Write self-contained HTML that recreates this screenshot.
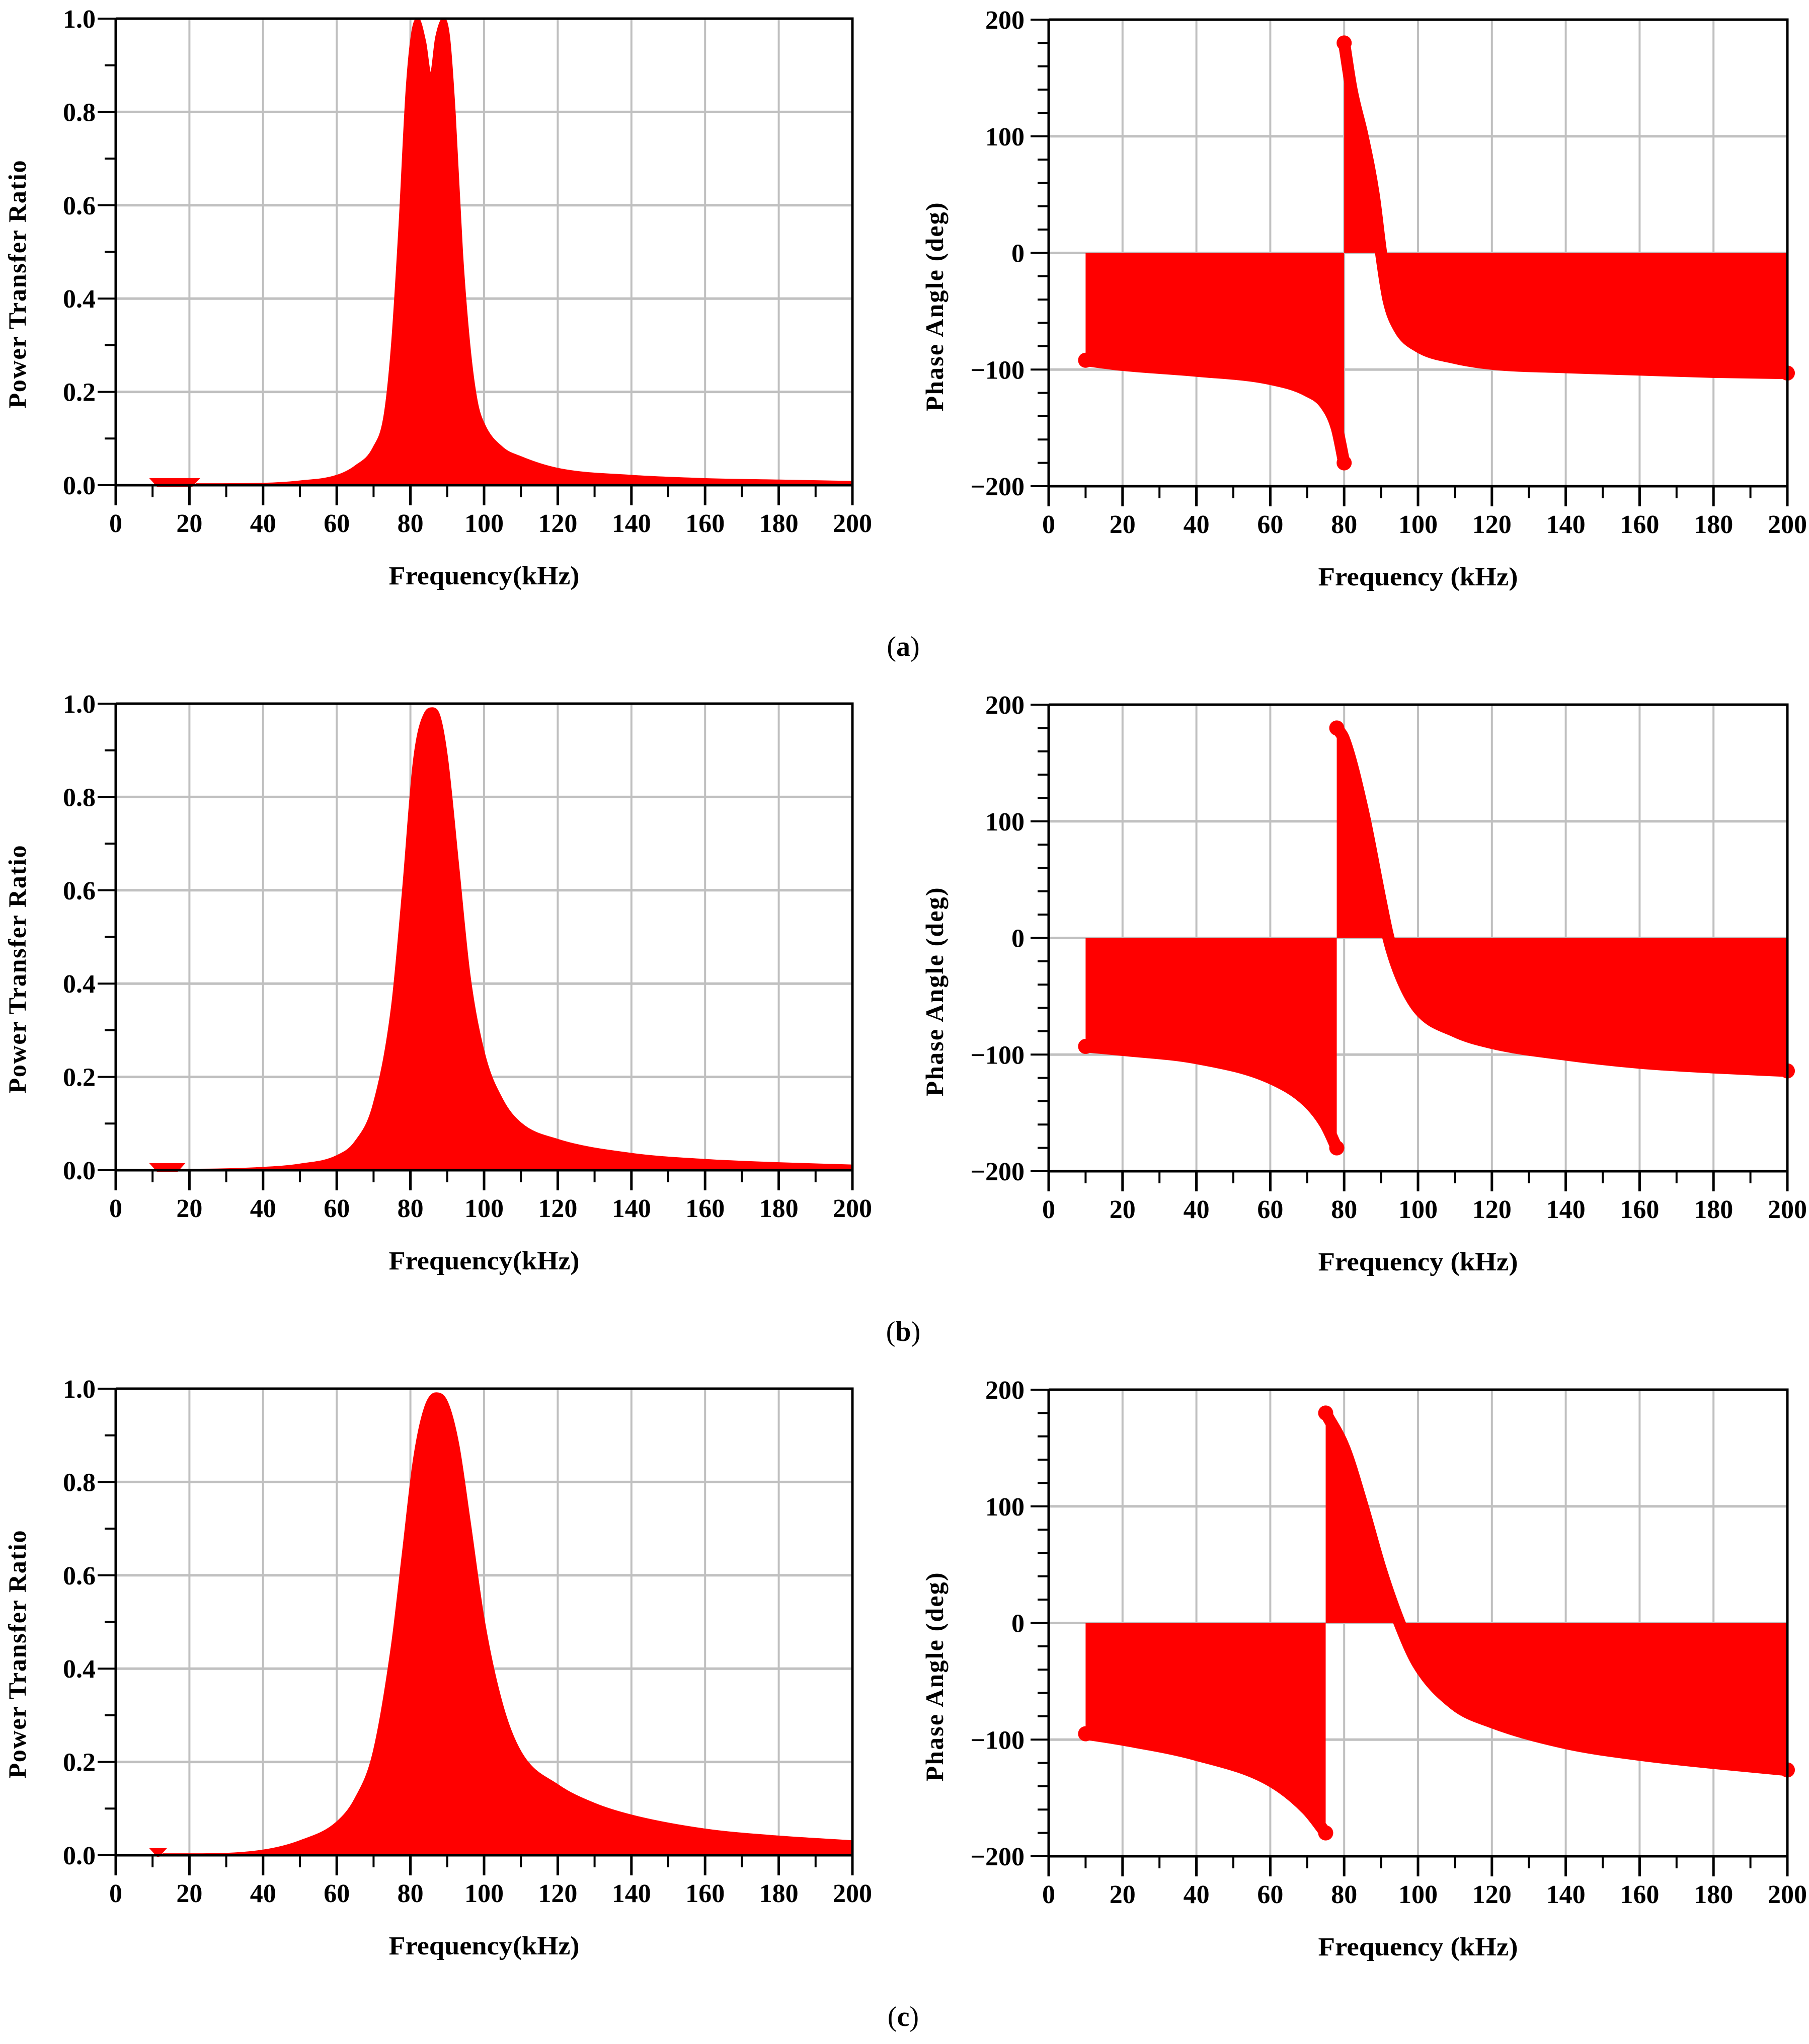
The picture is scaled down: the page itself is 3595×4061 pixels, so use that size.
<!DOCTYPE html>
<html><head><meta charset="utf-8"><style>
html,body{margin:0;padding:0;background:#fff}
svg{display:block}
text{font-family:"Liberation Serif",serif;font-weight:bold;fill:#000}
</style></head><body>
<svg id="fig" width="3595" height="4061" viewBox="0 0 3595 4061" xmlns="http://www.w3.org/2000/svg"></svg>
<script>
// ----- data -----
const freqA = [22,25,40,50,60,65,70,73,75,77,79,80.5,82,84,85.5,87,89,90.5,92,94,96,98,100,105,110,120,140,160,180,200];
const ratioA = [0.002,0.002,0.003,0.008,0.02,0.04,0.08,0.15,0.3,0.55,0.85,0.97,1.0,0.95,0.88,0.96,1.0,0.96,0.8,0.5,0.3,0.18,0.13,0.08,0.06,0.035,0.02,0.013,0.01,0.007];
const freqB = [18,20,40,50,60,65,70,75,78,81,84,86,88,90,93,96,100,105,110,120,140,160,180,200];
const ratioB = [0.001,0.001,0.005,0.012,0.03,0.06,0.14,0.35,0.6,0.88,0.98,0.99,0.97,0.88,0.65,0.42,0.25,0.15,0.1,0.065,0.035,0.022,0.015,0.01];
const freqC = [13,20,40,50,60,65,70,75,78,81,84,87,90,93,96,100,105,110,120,130,140,160,180,200];
const ratioC = [0.002,0.002,0.01,0.03,0.07,0.12,0.22,0.45,0.65,0.85,0.96,0.99,0.97,0.88,0.72,0.5,0.32,0.22,0.15,0.11,0.085,0.055,0.04,0.03];
const markerEnd = [22,18,13];

const pFreqA = [10,20,40,60,70,75,78,80,80,82,85,88,90,92,95,100,110,120,140,160,180,200];
const phaseA = [-92,-96,-101,-108,-118,-130,-150,-180,180,140,100,50,0,-40,-65,-80,-90,-95,-98,-100,-102,-103];
const pFreqB = [10,20,40,60,70,75,78,78,80,85,90,92,95,100,110,120,140,160,180,200];
const phaseB = [-93,-96,-103,-120,-140,-160,-180,180,170,110,30,0,-30,-60,-80,-90,-100,-107,-111,-114];
const pFreqC = [10,20,40,60,70,75,75,80,85,90,95,100,110,120,140,160,180,200];
const phaseC = [-95,-100,-113,-135,-160,-180,180,150,100,45,0,-35,-70,-85,-103,-113,-120,-126];

const xTicks = [0,20,40,60,80,100,120,140,160,180,200];
const ratioTicks = ["0.0","0.2","0.4","0.6","0.8","1.0"];
const phaseTicks = ["-200","-100","0","100","200"];
const panelLabels = ["a","b","c"];

const NS="http://www.w3.org/2000/svg";
const svg=document.getElementById('fig');
function mk(tag,attrs,parent){const e=document.createElementNS(NS,tag);for(const k in attrs)e.setAttribute(k,attrs[k]);(parent||svg).appendChild(e);return e;}

// monotone cubic path through pixel points
function smooth(pts){
  const n=pts.length; if(n<2) return '';
  const dx=[],m=[],t=[];
  for(let i=0;i<n-1;i++){dx[i]=pts[i+1][0]-pts[i][0];m[i]=(pts[i+1][1]-pts[i][1])/dx[i];}
  t[0]=m[0];t[n-1]=m[n-2];
  for(let i=1;i<n-1;i++){t[i]=(m[i-1]*m[i]<=0)?0:(m[i-1]+m[i])/2;}
  for(let i=0;i<n-1;i++){if(m[i]===0){t[i]=0;t[i+1]=0;continue;}
    const a=t[i]/m[i],b=t[i+1]/m[i],s=a*a+b*b;if(s>9){const k=3/Math.sqrt(s);t[i]=k*a*m[i];t[i+1]=k*b*m[i];}}
  let d='';
  for(let i=0;i<n-1;i++){const h=dx[i]/3;
    d+=` C${pts[i][0]+h},${pts[i][1]+t[i]*h} ${pts[i+1][0]-h},${pts[i+1][1]-t[i+1]*h} ${pts[i+1][0]},${pts[i+1][1]}`;}
  return d;
}

const LX0=230,LX1=1694,RX0=2084,RX1=3552,H=927,ROW=1361;

function drawPanel(r,isPhase,fx,fy){
  const x0=isPhase?RX0:LX0,x1=isPhase?RX1:LX1,top=(isPhase?39:37)+r*ROW,bot=top+H;
  const ymin=isPhase?-200:0,ymax=isPhase?200:1;
  const X=v=>x0+(v/200)*(x1-x0);
  const Y=v=>bot-(v-ymin)/(ymax-ymin)*H;
  const g=mk('g',{});
  
  
  for(let v=20;v<=200;v+=20){const l=mk('line',{x1:X(v),x2:X(v),y1:top,y2:bot,stroke:'#c0c0c0','stroke-width':4},g);
    }
  const ystep=isPhase?100:0.2;
  for(let i=0;i<=Math.round((ymax-ymin)/ystep);i++){const v=ymin+i*ystep;const l=mk('line',{x1:x0,x2:x1,y1:Y(v),y2:Y(v),stroke:'#c0c0c0','stroke-width':5},g);
    }
  if(!isPhase){
    const pts=fx.map((f,i)=>[X(f),Y(fy[i])]);
    let d='M'+X(fx[0])+','+Y(0)+' L'+pts[0][0]+','+pts[0][1]+smooth(pts)+' L'+X(fx[fx.length-1])+','+Y(0)+'Z';
    const p=mk('path',{d:d,fill:'#ff0000',stroke:'#ff0000','stroke-width':4},g);
    
    const me=markerEnd[r];
    const m=mk('path',{d:`M${X(10)},${Y(0.012)} L${X(me)},${Y(0.012)} L${X(me)-10},${Y(0)} L${X(10)+10},${Y(0)}Z`,fill:'#ff0000',stroke:'#ff0000','stroke-width':6},g);
    
  } else {
    let segs=[[]];
    fx.forEach((f,i)=>{const s=segs[segs.length-1];if(s.length&&s[s.length-1][0]===f)segs.push([]);segs[segs.length-1].push([f,fy[i]]);});
    segs.forEach(s=>{
      const pts=s.map(p=>[X(p[0]),Y(p[1])]);
      const curve='M'+pts[0][0]+','+pts[0][1]+smooth(pts);
      let d='M'+X(s[0][0])+','+Y(0)+' L'+pts[0][0]+','+pts[0][1]+smooth(pts)+' L'+X(s[s.length-1][0])+','+Y(0)+'Z';
      const a=mk('path',{d:d,fill:'#ff0000'},g);
      
      const pl=mk('path',{d:curve,fill:'none',stroke:'#ff0000','stroke-width':24,'stroke-linecap':'round','stroke-linejoin':'round'},g);
      
      [pts[0],pts[pts.length-1]].forEach(pp=>{const c=mk('circle',{cx:pp[0],cy:pp[1],r:15,fill:'#ff0000'},g);
        });
    });
  }
  const fr=mk('path',{d:`M${x0},${top} L${x1},${top} L${x1},${bot} M${x0},${top} L${x0},${bot} L${x1},${bot}`,fill:'none',stroke:'#000','stroke-width':5},g);
  
  for(let v=0;v<=200;v+=10){const maj=v%20===0;const t=mk('line',{x1:X(v),x2:X(v),y1:bot,y2:bot+(maj?40:24),stroke:'#000','stroke-width':maj?5:4},g);
    }
  xTicks.forEach(v=>{const t=mk('text',{x:X(v),y:bot+93,'text-anchor':'middle','font-size':52},g);t.textContent=v;
    });
  const minor=isPhase?20:0.1;
  for(let v=ymin;v<=ymax+1e-9;v+=minor){const maj=Math.abs((v-ymin)/ystep-Math.round((v-ymin)/ystep))<1e-6;
    const t=mk('line',{x1:x0,x2:x0-(maj?36:22),y1:Y(v),y2:Y(v),stroke:'#000','stroke-width':4},g);
    }
  const labels=isPhase?phaseTicks:ratioTicks;
  labels.forEach((s,i)=>{const v=ymin+i*ystep;const t=mk('text',{x:x0-(isPhase?48:40),y:Y(v)+18,'text-anchor':'end','font-size':52},g);
    t.textContent=s.replace('-','\u2212');});
  const xt=mk('text',{x:(x0+x1)/2,y:top+1124,'text-anchor':'middle','font-size':52,textLength:isPhase?397:379,lengthAdjust:'spacingAndGlyphs'},g);
  xt.textContent=isPhase?'Frequency (kHz)':'Frequency(kHz)';
  
  const yc=isPhase?1857:34,ym=isPhase?top+(610-39):top+(565-37);
  const yt=mk('text',{x:0,y:0,transform:`translate(${yc+17},${ym}) rotate(-90)`,'text-anchor':'middle','font-size':50,textLength:isPhase?415:493,lengthAdjust:'spacing'},g);
  yt.textContent=isPhase?'Phase Angle (deg)':'Power Transfer Ratio';
  
}

const ratioF=[freqA,freqB,freqC],ratioV=[ratioA,ratioB,ratioC];
const phF=[pFreqA,pFreqB,pFreqC],phV=[phaseA,phaseB,phaseC];
for(let r=0;r<3;r++){
  drawPanel(r,false,ratioF[r],ratioV[r]);
  drawPanel(r,true,phF[r],phV[r]);
  const t=mk('text',{x:1795,y:1303+r*1361,'text-anchor':'middle','font-size':56,'font-weight':'normal'});
  
  
  t.innerHTML='<tspan font-weight="normal">(</tspan><tspan font-weight="bold">'+panelLabels[r]+'</tspan><tspan font-weight="normal">)</tspan>';
}
</script>
</body></html>
